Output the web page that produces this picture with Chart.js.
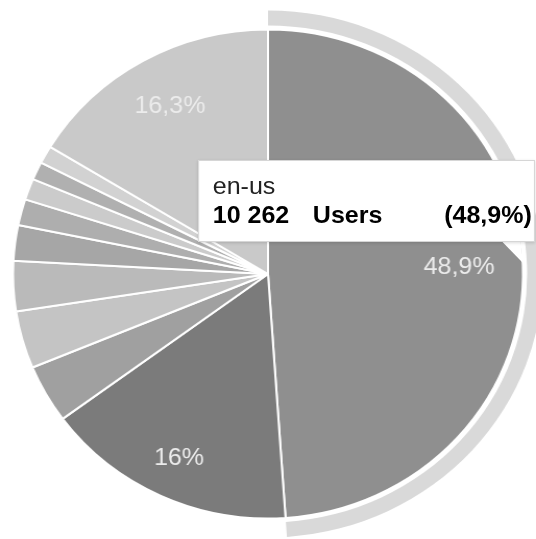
<!DOCTYPE html>
<html>
<head>
<meta charset="utf-8">
<script src="https://cdn.jsdelivr.net/npm/chart.js@4.4.1/dist/chart.umd.min.js"></script>
<style>
  html, body { margin: 0; padding: 0; background: #fff; overflow: hidden; }
  #stage { width: 536px; height: 539px; overflow: hidden; position: relative; }
  /* the reference is slightly stretched horizontally */
  #wrap { position: absolute; left: 0; top: 0; width: 514px; height: 539px; transform: scaleX(1.0428); transform-origin: 0 0; }
  #tail { position: absolute; left: 0; top: 0; }
  #tip {
    position: absolute; left: 190px; top: 160px; width: 323px; height: 82px;
    box-sizing: border-box; background: #fff; border: 1px solid #d6d6d6;
    box-shadow: 0 1px 3px rgba(0,0,0,0.15);
    font-family: Arial, "Liberation Sans", sans-serif; font-size: 24px; line-height: 24px; color: #000;
  }
  #tip span { position: absolute; white-space: nowrap; }
</style>
</head>
<body>
<div id="stage">
  <div id="wrap">
    <canvas id="langChart"></canvas>
    <svg id="tail" width="514" height="539"><polygon points="480,240 499,240 501.5,263" fill="#fff"/></svg>
    <div id="tip">
      <span id="tipTitle" style="left:13px; top:13px; color:#222;"></span>
      <span id="tipValue" style="left:13px; top:42px; font-weight:bold;"></span>
      <span id="tipSeries" style="left:109px; top:42px; font-weight:bold;"></span>
      <span id="tipPct" style="right:2px; top:42px; font-weight:bold;"></span>
    </div>
  </div>
</div>
<script>
// Users by browser language
const languages = ['en-us', 'ru', 'de', 'fr', 'es', 'it', 'pt-br', 'pl', 'nl', 'ja', 'Other'];
const users = [10262, 3358, 808, 797, 693, 493, 363, 294, 250, 245, 3421];
const sliceColors = ['#8f8f8f', '#7b7b7b', '#a0a0a0', '#c4c4c4', '#bababa', '#a6a6a6',
                     '#aeaeae', '#cbcbcb', '#b0b0b0', '#d2d2d2', '#c9c9c9'];
const seriesName = 'Users';
const hovered = 0;

const total = users.reduce((a, b) => a + b, 0);

function fmtPct(p) {
  return (Math.round(p * 10) / 10).toString().replace('.', ',') + '%';
}
function fmtNum(n) {
  return String(n).replace(/\B(?=(\d{3})+(?!\d))/g, ' ');
}

// percentage labels inside the big slices
const sliceLabels = {
  id: 'sliceLabels',
  afterDatasetsDraw(chart, args, opts) {
    const meta = chart.getDatasetMeta(2);
    const ctx = chart.ctx;
    ctx.save();
    ctx.font = '24px Arial, "Liberation Sans", sans-serif';
    ctx.fillStyle = '#ececec';
    ctx.textAlign = 'center';
    ctx.textBaseline = 'middle';
    meta.data.forEach((arc, i) => {
      const pct = users[i] / total * 100;
      if (pct < 5) return;
      const mid = (arc.startAngle + arc.endAngle) / 2;
      const r = arc.outerRadius * (opts.radius[i] || 0.79);
      ctx.fillText(fmtPct(pct), arc.x + Math.cos(mid) * r, arc.y + Math.sin(mid) * r);
    });
    ctx.restore();
  }
};

const ctx = document.getElementById('langChart').getContext('2d');
const langChart = new Chart(ctx, {
  type: 'pie',
  data: {
    labels: languages,
    datasets: [
      {
        // highlight ring around the hovered slice
        data: users,
        backgroundColor: users.map((v, i) => i === hovered ? '#d9d9d9' : 'rgba(0,0,0,0)'),
        borderWidth: 0,
        weight: 15
      },
      {
        data: users,
        backgroundColor: 'rgba(0,0,0,0)',
        borderWidth: 0,
        weight: 4
      },
      {
        data: users,
        backgroundColor: sliceColors,
        borderColor: '#ffffff',
        borderWidth: 2,
        weight: 244.5
      }
    ]
  },
  options: {
    responsive: true,
    maintainAspectRatio: false,
    animation: false,
    events: [],
    radius: 263.5,
    layout: { padding: { top: 9, bottom: 0, left: 0, right: 0 } },
    plugins: {
      legend: { display: false },
      tooltip: { enabled: false },
      sliceLabels: { radius: { 0: 0.75, 1: 0.83, 10: 0.785 } }
    }
  },
  plugins: [sliceLabels]
});

document.getElementById('tipTitle').textContent = languages[hovered];
document.getElementById('tipValue').textContent = fmtNum(users[hovered]);
document.getElementById('tipSeries').textContent = seriesName;
document.getElementById('tipPct').textContent = '(' + fmtPct(users[hovered] / total * 100) + ')';
</script>
</body>
</html>
